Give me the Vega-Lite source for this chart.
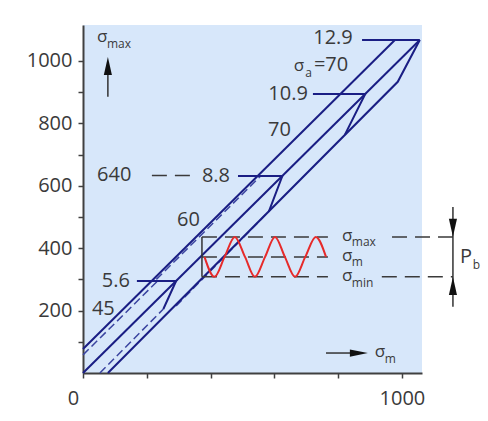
{
  "$schema": "https://vega.github.io/schema/vega-lite/v6.json",
  "width": 339,
  "height": 348,
  "autosize": {"type": "none"},
  "padding": {"left": 83, "top": 25, "right": 66, "bottom": 48},
  "background": "white",
  "config": {"view": {"fill": "#d7e7fa", "stroke": null}, "font": "Open Sans"},
  "datasets": {
    "solid": [
      {"s": "U", "i": 0, "x": 0, "y": 77}, {"s": "U", "i": 1, "x": 978, "y": 1067},
      {"s": "D", "i": 0, "x": 0, "y": 0}, {"s": "D", "i": 1, "x": 1056, "y": 1067},
      {"s": "L", "i": 0, "x": 78, "y": 0}, {"s": "L", "i": 1, "x": 987, "y": 933}, {"s": "L", "i": 2, "x": 1056, "y": 1067},
      {"s": "H129", "i": 0, "x": 875, "y": 1067}, {"s": "H129", "i": 1, "x": 1056, "y": 1067},
      {"s": "H109", "i": 0, "x": 721, "y": 894}, {"s": "H109", "i": 1, "x": 885, "y": 894}, {"s": "H109", "i": 2, "x": 821, "y": 763},
      {"s": "H88", "i": 0, "x": 486, "y": 631}, {"s": "H88", "i": 1, "x": 625, "y": 631}, {"s": "H88", "i": 2, "x": 583, "y": 518},
      {"s": "H56", "i": 0, "x": 169, "y": 295}, {"s": "H56", "i": 1, "x": 292, "y": 295}, {"s": "H56", "i": 2, "x": 252, "y": 205}
    ],
    "dashedNavy": [
      {"s": "a45u", "i": 0, "x": 0, "y": 58}, {"s": "a45u", "i": 1, "x": 234, "y": 295},
      {"s": "a45l", "i": 0, "x": 53, "y": 0}, {"s": "a45l", "i": 1, "x": 252, "y": 205},
      {"s": "a60u", "i": 0, "x": 230, "y": 300}, {"s": "a60u", "i": 1, "x": 557, "y": 631},
      {"s": "a60l", "i": 0, "x": 292, "y": 215}, {"s": "a60l", "i": 1, "x": 583, "y": 518}
    ],
    "dashedGray": [
      {"s": "max1", "i": 0, "x": 373, "y": 436}, {"s": "max1", "i": 1, "x": 768, "y": 436},
      {"s": "max2", "i": 0, "x": 969, "y": 436}, {"s": "max2", "i": 1, "x": 1160, "y": 436},
      {"s": "m", "i": 0, "x": 373, "y": 372}, {"s": "m", "i": 1, "x": 768, "y": 372},
      {"s": "min1", "i": 0, "x": 373, "y": 308}, {"s": "min1", "i": 1, "x": 768, "y": 308},
      {"s": "min2", "i": 0, "x": 937, "y": 308}, {"s": "min2", "i": 1, "x": 1160, "y": 308},
      {"s": "y640", "i": 0, "x": 216, "y": 633}, {"s": "y640", "i": 1, "x": 345, "y": 633}
    ],
    "solidGray": [
      {"s": "br", "i": 0, "x": 373, "y": 308}, {"s": "br", "i": 1, "x": 373, "y": 436},
      {"s": "pb", "i": 0, "x": 1160, "y": 212}, {"s": "pb", "i": 1, "x": 1160, "y": 532},
      {"s": "ay", "i": 0, "x": 78, "y": 885}, {"s": "ay", "i": 1, "x": 78, "y": 965},
      {"s": "ax", "i": 0, "x": 762, "y": 64}, {"s": "ax", "i": 1, "x": 845, "y": 64}
    ],
    "wave": [
      {"x": 381, "y": 372}, {"x": 412, "y": 308}, {"x": 444, "y": 372}, {"x": 476, "y": 436},
      {"x": 508, "y": 372}, {"x": 539, "y": 308}, {"x": 571, "y": 372}, {"x": 602, "y": 436},
      {"x": 633, "y": 372}, {"x": 665, "y": 308}, {"x": 697, "y": 372}, {"x": 730, "y": 436},
      {"x": 762, "y": 372}
    ],
    "heads": [
      {"dir": "down", "x": 1160, "y": 465},
      {"dir": "up", "x": 1160, "y": 279},
      {"dir": "up", "x": 78, "y": 984},
      {"dir": "right", "x": 865, "y": 64}
    ],
    "textRight": [
      {"t": "12.9", "x": 846, "y": 1074},
      {"t": "10.9", "x": 705, "y": 894},
      {"t": "8.8", "x": 461, "y": 631},
      {"t": "5.6", "x": 147, "y": 295}
    ],
    "textLeft": [
      {"t": "640", "x": 44, "y": 635},
      {"t": "70", "x": 580, "y": 779},
      {"t": "60", "x": 295, "y": 490},
      {"t": "45", "x": 28, "y": 205},
      {"t": "=70", "x": 724, "y": 987},
      {"t": "P", "x": 1182, "y": 372}
    ],
    "sigma": [
      {"t": "σ", "x": 661, "y": 983},
      {"t": "σ", "x": 44, "y": 1077},
      {"t": "σ", "x": 812, "y": 438},
      {"t": "σ", "x": 812, "y": 374},
      {"t": "σ", "x": 812, "y": 310},
      {"t": "σ", "x": 915, "y": 67}
    ],
    "textSub": [
      {"t": "a", "x": 697, "y": 960},
      {"t": "max", "x": 843, "y": 420},
      {"t": "max", "x": 75, "y": 1054},
      {"t": "m", "x": 843, "y": 356},
      {"t": "min", "x": 843, "y": 287},
      {"t": "b", "x": 1222, "y": 345},
      {"t": "m", "x": 946, "y": 45}
    ]
  },
  "encoding": {
    "x": {
      "field": "x", "type": "quantitative",
      "scale": {"domain": [0, 1063], "nice": false, "zero": false},
      "axis": {
        "title": null, "grid": false, "values": [0, 200, 400, 600, 800, 1000], "format": "d",
        "labelExpr": "datum.value == 0 || datum.value == 1000 ? datum.label : ''",
        "labelFlush": false,
        "labelOffset": {"condition": {"test": "datum.value == 0", "value": -10}, "value": 0},
        "labelFont": "Open Sans", "labelFontSize": 20, "labelColor": "#3a3a3a", "labelPadding": 10,
        "domainColor": "#404040", "domainWidth": 2, "tickColor": "#404040", "tickWidth": 1.5, "tickSize": 5
      }
    },
    "y": {
      "field": "y", "type": "quantitative",
      "scale": {"domain": [0, 1115], "nice": false, "zero": false},
      "axis": {
        "title": null, "grid": false, "values": [100, 200, 300, 400, 500, 600, 700, 800, 900, 1000], "format": "d",
        "labelExpr": "datum.value % 200 == 0 ? datum.label : ''",
        "labelFont": "Open Sans", "labelFontSize": 20, "labelColor": "#3a3a3a", "labelPadding": 6,
        "domainColor": "#404040", "domainWidth": 2, "tickColor": "#404040", "tickWidth": 1.5, "tickSize": 5
      }
    }
  },
  "layer": [
    {
      "data": {"name": "dashedNavy"},
      "mark": {"type": "line", "color": "#3a44a0", "strokeWidth": 1.5, "strokeDash": [8, 4]},
      "encoding": {"detail": {"field": "s"}, "order": {"field": "i"}}
    },
    {
      "data": {"name": "solid"},
      "mark": {"type": "line", "color": "#1a1e84", "strokeWidth": 2},
      "encoding": {"detail": {"field": "s"}, "order": {"field": "i"}}
    },
    {
      "data": {"name": "dashedGray"},
      "mark": {"type": "line", "color": "#3a3a3a", "strokeWidth": 1.5, "strokeDash": [15, 8]},
      "encoding": {"detail": {"field": "s"}, "order": {"field": "i"}}
    },
    {
      "data": {"name": "solidGray"},
      "mark": {"type": "line", "color": "#333333", "strokeWidth": 1.5},
      "encoding": {"detail": {"field": "s"}, "order": {"field": "i"}}
    },
    {
      "data": {"name": "wave"},
      "mark": {"type": "line", "color": "#e62a2a", "strokeWidth": 2, "interpolate": "monotone"},
      "encoding": {}
    },
    {
      "data": {"name": "heads"},
      "mark": {"type": "point", "filled": true, "size": 324, "color": "#111111", "opacity": 1, "strokeWidth": 0},
      "encoding": {
        "shape": {
          "field": "dir", "type": "nominal", "legend": null,
          "scale": {"domain": ["up", "down", "right"], "range": ["M-0.45,1L0,-1L0.45,1Z", "M-0.45,-1L0,1L0.45,-1Z", "M-1,-0.4L1,0L-1,0.4Z"]}
        }
      }
    },
    {
      "data": {"name": "textRight"},
      "mark": {"type": "text", "align": "right", "baseline": "middle", "font": "Open Sans", "fontSize": 20, "color": "#3a3a3a"},
      "encoding": {"text": {"field": "t"}}
    },
    {
      "data": {"name": "textLeft"},
      "mark": {"type": "text", "align": "left", "baseline": "middle", "font": "Open Sans", "fontSize": 20, "color": "#3a3a3a"},
      "encoding": {"text": {"field": "t"}}
    },
    {
      "data": {"name": "sigma"},
      "mark": {"type": "text", "align": "left", "baseline": "middle", "font": "Open Sans", "fontSize": 17, "color": "#3a3a3a"},
      "encoding": {"text": {"field": "t"}}
    },
    {
      "data": {"name": "textSub"},
      "mark": {"type": "text", "align": "left", "baseline": "middle", "font": "Open Sans", "fontSize": 12, "color": "#3a3a3a"},
      "encoding": {"text": {"field": "t"}}
    }
  ]
}
